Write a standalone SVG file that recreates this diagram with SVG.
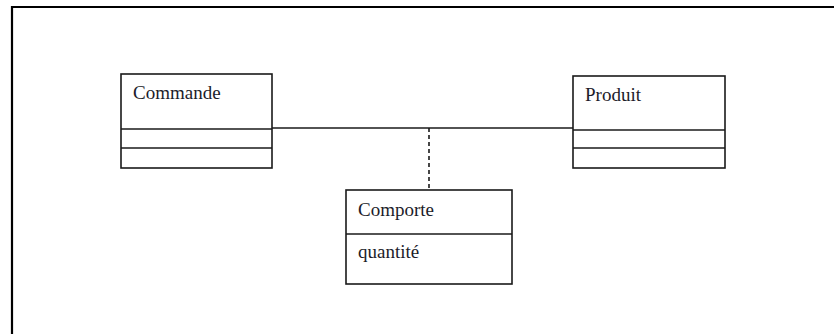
<svg xmlns="http://www.w3.org/2000/svg" width="834" height="334" viewBox="0 0 834 334">
  <style>
    .frame { fill: none; stroke: #000; stroke-width: 2.2; }
    .box { fill: #fff; stroke: #1a1a1a; stroke-width: 1.6; }
    .sep { stroke: #1a1a1a; stroke-width: 1.6; }
    .label { font-family: "Liberation Serif", "Times New Roman", serif; font-size: 19px; fill: #1c1c2a; }
    .assoc { stroke: #1a1a1a; stroke-width: 1.6; fill: none; }
    .dashed { stroke-dasharray: 4 3; }
  </style>
  <rect width="834" height="334" fill="#fff"/>

  <!-- page frame (top and left edges visible) -->
  <path class="frame" d="M12 334 V7 H834"/>

  <!-- association lines -->
  <g id="connectors">
    <line class="assoc" x1="272" y1="128" x2="573" y2="128"/>
    <line class="assoc dashed" x1="429" y1="128" x2="429" y2="190"/>
  </g>

  <g id="commande">
    <rect class="box" x="121" y="74" width="151" height="94"/>
    <line class="sep" x1="121" y1="129" x2="272" y2="129"/>
    <line class="sep" x1="121" y1="148" x2="272" y2="148"/>
    <text class="label" x="133" y="99">Commande</text>
  </g>

  <g id="produit">
    <rect class="box" x="573" y="76" width="152" height="92"/>
    <line class="sep" x1="573" y1="130" x2="725" y2="130"/>
    <line class="sep" x1="573" y1="148" x2="725" y2="148"/>
    <text class="label" x="585" y="101">Produit</text>
  </g>

  <g id="comporte">
    <rect class="box" x="346" y="190" width="166" height="94"/>
    <line class="sep" x1="346" y1="234" x2="512" y2="234"/>
    <text class="label" x="358" y="216">Comporte</text>
    <text class="label" x="358" y="258">quantité</text>
  </g>
</svg>
